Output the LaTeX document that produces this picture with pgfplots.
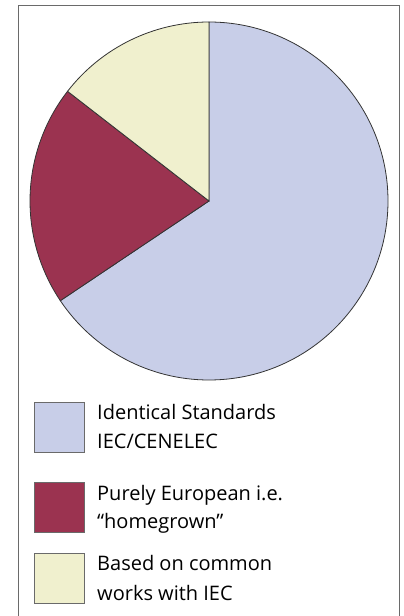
\documentclass[border=0pt]{standalone}
\usepackage{pgfplots}
\pgfplotsset{compat=1.18}
\usepackage{pgfplotstable}
\usepackage{fontspec}
\setmainfont{Open Sans}
\definecolor{sliceblue}{HTML}{C8CEE8}
\definecolor{slicered}{HTML}{9B3350}
\definecolor{sliceyellow}{HTML}{F0F0CE}
\definecolor{edge}{HTML}{333333}
\definecolor{frame}{HTML}{6A6A6A}
\pgfplotstableread{
label value
Identical 65.6
Purely 19.9
Based 14.5
}\piedata
\begin{document}
\begin{tikzpicture}[x=1pt,y=1pt]
\useasboundingbox (0,0) rectangle (404,616);
\pgfplotstablegetelem{0}{value}\of\piedata \let\va\pgfplotsretval
\pgfplotstablegetelem{1}{value}\of\piedata \let\vb\pgfplotsretval
\pgfplotstablegetelem{2}{value}\of\piedata \let\vc\pgfplotsretval
\pgfmathsetmacro\tot{\va+\vb+\vc}
\pgfmathsetmacro\aA{90}
\pgfmathsetmacro\aB{90-360*(\va/\tot)}
\pgfmathsetmacro\aC{\aB-360*(\vb/\tot)}
\pgfmathsetmacro\aD{\aC-360*(\vc/\tot)}
\draw[frame, line width=1pt] (18.5,0) -- (18.5,610) -- (399.5,610) -- (399.5,0);
\begin{axis}[
  at={(209pt,415pt)}, anchor=center,
  scale only axis, width=358pt, height=358pt,
  xmin=-1, xmax=1, ymin=-1, ymax=1,
  hide axis, clip=false]
\filldraw[fill=sliceblue, draw=edge, line width=0.8pt]
  (axis cs:0,0) -- ++(\aA:179pt) arc[start angle=\aA, end angle=\aB, radius=179pt] -- cycle;
\filldraw[fill=slicered, draw=edge, line width=0.8pt]
  (axis cs:0,0) -- ++(\aB:179pt) arc[start angle=\aB, end angle=\aC, radius=179pt] -- cycle;
\filldraw[fill=sliceyellow, draw=edge, line width=0.8pt]
  (axis cs:0,0) -- ++(\aC:179pt) arc[start angle=\aC, end angle=\aD, radius=179pt] -- cycle;
\end{axis}
% legend
\filldraw[fill=sliceblue, draw=frame, line width=1pt] (34.5,163.5) rectangle (84,213.5);
\filldraw[fill=slicered, draw=frame, line width=1pt] (34.5,83.5) rectangle (84,133.5);
\filldraw[fill=sliceyellow, draw=frame, line width=1pt] (34.5,12.5) rectangle (84,62.5);
\begin{scope}[every node/.style={anchor=base west, inner sep=0pt, font=\fontsize{20}{24}\selectfont, text=black}]
\node at (97,196) {Identical Standards};
\node at (97,167) {IEC/CENELEC};
\node at (97,115.5) {Purely European i.e.};
\node at (97,87) {“homegrown”};
\node at (97,45) {Based on common};
\node at (97,16) {works with IEC};
\end{scope}
\end{tikzpicture}
\end{document}
